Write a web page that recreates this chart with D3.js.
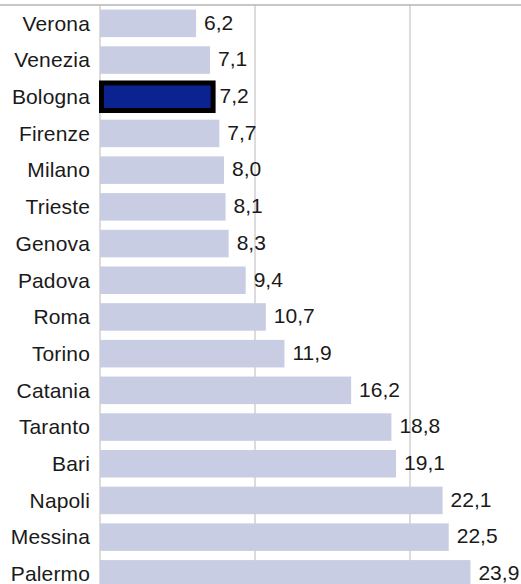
<!DOCTYPE html>
<html>
<head>
<meta charset="utf-8">
<script src="https://cdn.jsdelivr.net/npm/d3@7"></script>
<style>
  html, body { margin: 0; padding: 0; background: #fff; }
  svg { display: block; }
  text { font-family: "Liberation Sans", Arial, sans-serif; fill: #1a1a1a; }
</style>
</head>
<body>
<svg id="chart" width="521" height="584"></svg>
<script>
const cities = ["Verona","Venezia","Bologna","Firenze","Milano","Trieste","Genova","Padova","Roma","Torino","Catania","Taranto","Bari","Napoli","Messina","Palermo"];
const values = [6.2, 7.1, 7.2, 7.7, 8.0, 8.1, 8.3, 9.4, 10.7, 11.9, 16.2, 18.8, 19.1, 22.1, 22.5, 23.9];
const highlight = ["Bologna"];
const xTicks = [10, 20, 30];

(function () {
const data = cities.map((c, i) => ({ city: c, value: values[i] }));
const fmt = v => d3.format(".1f")(v).replace(".", ",");
const isHi = d => highlight.includes(d.city);

const svg = d3.select("#chart");
const W = 521, H = 584;
const y0 = 5;

const x = d3.scaleLinear().domain([0, 30]).range([100, 565]);
const y = d3.scaleBand().domain(cities).range([y0, y0 + 36.7 * 16]).paddingInner(0.25).paddingOuter(0.125);

// gridlines
svg.append("g").selectAll("line").data(xTicks).join("line")
  .attr("x1", d => x(d)).attr("x2", d => x(d))
  .attr("y1", y0).attr("y2", H)
  .attr("stroke", "#dcdcdc").attr("stroke-width", 2);

// left axis line
svg.append("line")
  .attr("x1", x(0)).attr("x2", x(0)).attr("y1", y0).attr("y2", H)
  .attr("stroke", "#dcdcdc").attr("stroke-width", 2);

// top line
svg.append("line")
  .attr("x1", 0).attr("x2", W).attr("y1", y0).attr("y2", y0)
  .attr("stroke", "#b4b4b4").attr("stroke-width", 1.5);

// bars
svg.append("g").selectAll("rect").data(data).join("rect")
  .attr("x", d => x(0) + (isHi(d) ? 1.5 : 0))
  .attr("y", d => y(d.city))
  .attr("width", d => x(d.value) - x(0))
  .attr("height", y.bandwidth())
  .attr("fill", d => isHi(d) ? "#0b2390" : "#c8cde3")
  .attr("stroke", d => isHi(d) ? "#000" : "none")
  .attr("stroke-width", d => isHi(d) ? 5 : 0);

// category labels
svg.append("g").selectAll("text").data(data).join("text")
  .attr("x", 90)
  .attr("y", d => y(d.city) + y.bandwidth() / 2 + 7.3)
  .attr("text-anchor", "end")
  .attr("font-size", 21)
  .attr("letter-spacing", 0.15)
  .text(d => d.city);

// value labels
svg.append("g").selectAll("text").data(data).join("text")
  .attr("x", d => x(d.value) + 8)
  .attr("y", d => y(d.city) + y.bandwidth() / 2 + 6.3)
  .attr("font-size", 21)
  .text(d => fmt(d.value));
})();
</script>
</body>
</html>
